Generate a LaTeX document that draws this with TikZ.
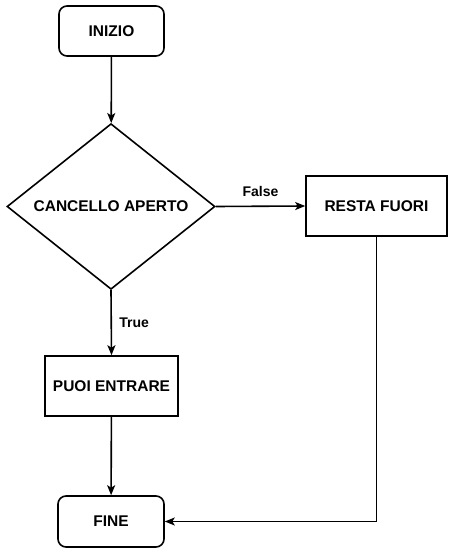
\documentclass[tikz,border=0pt]{standalone}
\usepackage{fontspec}
\setmainfont{Liberation Sans}
\usetikzlibrary{shapes.geometric,arrows.meta}
\begin{document}
\begin{tikzpicture}[x=1pt,y=-1pt,
  every node/.style={font=\bfseries\fontsize{15.5}{18}\selectfont},
  term/.style={draw,line width=1.6pt,rounded corners=8pt,minimum width=105pt,minimum height=50pt,inner sep=0pt},
  proc/.style={draw,line width=1.6pt,inner sep=0pt},
  dec/.style={draw,line width=1.6pt,diamond,inner sep=0pt,minimum width=208pt,minimum height=158pt},
  conn/.style={line width=1.6pt,-{Stealth[length=10pt,width=8pt,inset=2.5pt]}},
  lbl/.style={font=\bfseries\fontsize{14}{16}\selectfont}]
\useasboundingbox (0,0) rectangle (453,553);
\node[term] (inizio) at (111.5,31) {INIZIO};
\node[dec] (cancello) at (111,206.5) {CANCELLO APERTO};
\node[proc,minimum width=141pt,minimum height=60pt] (resta) at (376.5,206) {RESTA FUORI};
\node[proc,minimum width=133pt,minimum height=60pt] (puoi) at (111.5,386) {PUOI ENTRARE};
\node[term,minimum width=106pt,minimum height=51pt] (fine) at (111,521.5) {FINE};
\draw[conn] (inizio) -- (cancello);
\draw[conn] (cancello.east) -- node[lbl,above=5pt] {False} (resta.west);
\draw[conn] (cancello.south) -- node[lbl,right=4pt,pos=0.5] {True} (puoi.north);
\draw[conn] (puoi) -- (fine);
\draw[conn] (resta.south) |- (fine.east);
\end{tikzpicture}
\end{document}
